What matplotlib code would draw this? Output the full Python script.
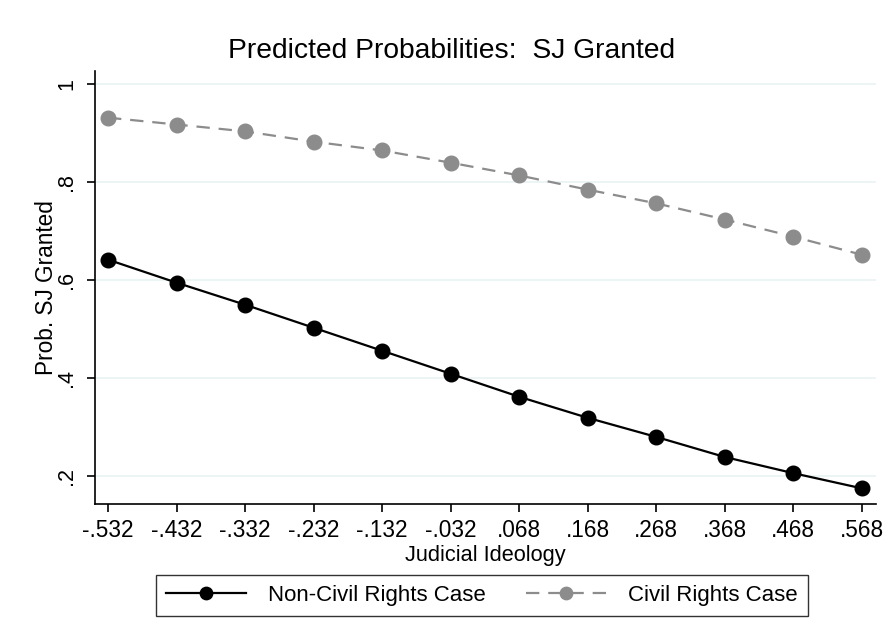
import matplotlib
matplotlib.use("Agg")
import matplotlib.pyplot as plt

plt.rcParams['font.family'] = ['Liberation Sans', 'DejaVu Sans']

ideology = [-0.532, -0.432, -0.332, -0.232, -0.132, -0.032, 0.068, 0.168, 0.268, 0.368, 0.468, 0.568]
tick_labels = ["-.532", "-.432", "-.332", "-.232", "-.132", "-.032", ".068", ".168", ".268", ".368", ".468", ".568"]
non_civil = [0.642, 0.595, 0.550, 0.503, 0.456, 0.409, 0.362, 0.319, 0.280, 0.239, 0.206, 0.175]
civil = [0.932, 0.918, 0.904, 0.883, 0.865, 0.840, 0.814, 0.785, 0.757, 0.724, 0.689, 0.652]
y_ticks = [0.2, 0.4, 0.6, 0.8, 1.0]
y_labels = [".2", ".4", ".6", ".8", "1"]

fig = plt.figure(figsize=(8.88, 6.41), dpi=100)
ax = fig.add_axes([0.107, 0.2137, 0.879, 0.6753])

for y in y_ticks:
    ax.axhline(y, color="#EAF2F3", lw=1.2, zorder=0)

ax.plot(ideology, non_civil, color="black", lw=1.6, marker="o", ms=10.5,
        label="Non-Civil Rights Case", zorder=3)
ax.plot(ideology, civil, color="#8C8C8C", lw=1.6, ls=(0, (6, 4)), marker="o", ms=10.5,
        label="Civil Rights Case", zorder=3)

ax.set_xlim(-0.551, 0.588)
ax.set_ylim(0.143, 1.027)
ax.set_xticks(ideology)
ax.set_xticklabels(tick_labels, fontsize=16.3)
ax.set_yticks(y_ticks)
ax.set_yticklabels(y_labels, fontsize=15.5, rotation=90, va="center")
ax.tick_params(axis="x", length=6, width=1.2, color="black", pad=5)
ax.tick_params(axis="y", length=6, width=1.2, color="black", pad=7)
for s in ["top", "right"]:
    ax.spines[s].set_visible(False)
for s in ["left", "bottom"]:
    ax.spines[s].set_linewidth(1.2)

ax.set_xlabel("Judicial Ideology", fontsize=15.7, labelpad=2)
ax.set_ylabel("Prob. SJ Granted", fontsize=16.3)
ax.yaxis.set_label_coords(-0.048, 0.5)
fig.text(0.509, 0.920, "Predicted Probabilities:  SJ Granted", fontsize=20.3,
         ha="center", va="center")

leg = fig.legend(loc="center", bbox_to_anchor=(0.543, 0.071), ncol=2, fontsize=16,
                 frameon=True, fancybox=False, edgecolor="black", handlelength=3.6,
                 columnspacing=1.8, borderpad=0.45, handletextpad=1.0, markerscale=0.85)
leg.get_frame().set_linewidth(1.0)

fig.savefig("out.png", dpi=100, facecolor="white")
